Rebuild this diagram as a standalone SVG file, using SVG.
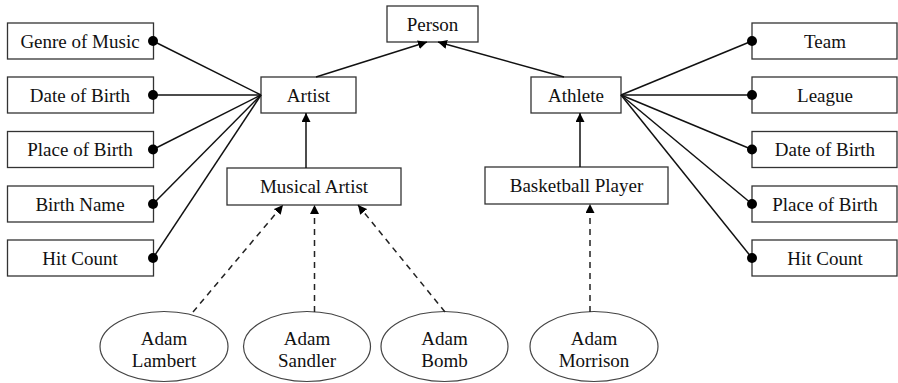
<svg xmlns="http://www.w3.org/2000/svg" width="898" height="383" viewBox="0 0 898 383">
  <style>
    .box { fill: #ffffff; stroke: #333333; stroke-width: 1.3; }
    .oval { fill: #ffffff; stroke: #444444; stroke-width: 1.2; }
    .label { font-family: "Liberation Serif", "Times New Roman", serif; font-size: 19px; fill: #111111; text-anchor: middle; }
    .link { stroke: #111111; stroke-width: 1.5; fill: none; }
    .inherit { stroke: #111111; stroke-width: 1.5; fill: none; marker-end: url(#tri); }
    .instance { stroke: #222222; stroke-width: 1.5; fill: none; stroke-dasharray: 6 5; marker-end: url(#tri); }
    .dot { fill: #000000; }
  </style>
  <defs>
    <marker id="tri" viewBox="0 0 10 10" refX="10" refY="5" markerWidth="9" markerHeight="9" markerUnits="userSpaceOnUse" orient="auto">
      <path d="M0,0 L10,5 L0,10 Z" fill="#000000"/>
    </marker>
  </defs>

  <rect width="898" height="383" fill="#ffffff"/>

  <!-- class nodes -->
  <g id="person"><rect class="box" x="387" y="6" width="91" height="36"/><text class="label" x="432.5" y="30.5">Person</text></g>
  <g id="artist"><rect class="box" x="261" y="77" width="95" height="36"/><text class="label" x="308.5" y="101.5">Artist</text></g>
  <g id="athlete"><rect class="box" x="531" y="77" width="90" height="36"/><text class="label" x="576" y="101.5">Athlete</text></g>
  <g id="musical-artist"><rect class="box" x="227" y="168" width="174" height="37"/><text class="label" x="314" y="192.5">Musical Artist</text></g>
  <g id="basketball-player"><rect class="box" x="485" y="167" width="183" height="37"/><text class="label" x="576.5" y="191.5">Basketball Player</text></g>

  <!-- Artist attributes -->
  <g id="genre-of-music"><rect class="box" x="7.5" y="23" width="146" height="36"/><text class="label" x="80" y="47.5">Genre of Music</text></g>
  <g id="artist-date-of-birth"><rect class="box" x="7.5" y="77" width="146" height="36"/><text class="label" x="80" y="101.5">Date of Birth</text></g>
  <g id="artist-place-of-birth"><rect class="box" x="7.5" y="131.5" width="146" height="36"/><text class="label" x="80" y="156">Place of Birth</text></g>
  <g id="birth-name"><rect class="box" x="7.5" y="186" width="146" height="36"/><text class="label" x="80" y="210.5">Birth Name</text></g>
  <g id="artist-hit-count"><rect class="box" x="7.5" y="240" width="146" height="36"/><text class="label" x="80" y="264.5">Hit Count</text></g>

  <!-- Athlete attributes -->
  <g id="team"><rect class="box" x="752" y="23" width="145" height="36"/><text class="label" x="825" y="47.5">Team</text></g>
  <g id="league"><rect class="box" x="752" y="77" width="145" height="36"/><text class="label" x="825" y="101.5">League</text></g>
  <g id="athlete-date-of-birth"><rect class="box" x="752" y="131.5" width="145" height="36"/><text class="label" x="825" y="156">Date of Birth</text></g>
  <g id="athlete-place-of-birth"><rect class="box" x="752" y="186" width="145" height="36"/><text class="label" x="825" y="210.5">Place of Birth</text></g>
  <g id="athlete-hit-count"><rect class="box" x="752" y="240" width="145" height="36"/><text class="label" x="825" y="264.5">Hit Count</text></g>

  <!-- instances -->
  <g id="adam-lambert"><ellipse class="oval" cx="164" cy="346.5" rx="64" ry="35"/><text class="label" x="164" y="345">Adam</text><text class="label" x="164" y="367">Lambert</text></g>
  <g id="adam-sandler"><ellipse class="oval" cx="307" cy="346.5" rx="63.5" ry="35"/><text class="label" x="307" y="345">Adam</text><text class="label" x="307" y="367">Sandler</text></g>
  <g id="adam-bomb"><ellipse class="oval" cx="444.5" cy="346.5" rx="63.5" ry="35"/><text class="label" x="444.5" y="345">Adam</text><text class="label" x="444.5" y="367">Bomb</text></g>
  <g id="adam-morrison"><ellipse class="oval" cx="594" cy="346.5" rx="64" ry="35"/><text class="label" x="594" y="345">Adam</text><text class="label" x="594" y="367">Morrison</text></g>

  <!-- connectors, drawn over the node outlines so the end dots sit on the box edges -->
  <g id="connectors">
    <!-- attributes of Artist -->
    <line class="link" x1="153" y1="41" x2="261" y2="95"/>
    <line class="link" x1="153" y1="95" x2="261" y2="95"/>
    <line class="link" x1="153" y1="149.5" x2="261" y2="95"/>
    <line class="link" x1="153" y1="204" x2="261" y2="95"/>
    <line class="link" x1="153" y1="258" x2="261" y2="95"/>
    <!-- attributes of Athlete -->
    <line class="link" x1="621" y1="95" x2="752" y2="41"/>
    <line class="link" x1="621" y1="95" x2="752" y2="95"/>
    <line class="link" x1="621" y1="95" x2="752" y2="149.5"/>
    <line class="link" x1="621" y1="95" x2="752" y2="204"/>
    <line class="link" x1="621" y1="95" x2="752" y2="258"/>
    <!-- subclass links -->
    <line class="inherit" x1="316" y1="77" x2="427" y2="42"/>
    <line class="inherit" x1="564" y1="77" x2="438" y2="42"/>
    <line class="inherit" x1="306" y1="168" x2="306" y2="113"/>
    <line class="inherit" x1="580" y1="167" x2="580" y2="113"/>
    <!-- instance links -->
    <line class="instance" x1="193" y1="312" x2="283" y2="205"/>
    <line class="instance" x1="314.5" y1="312" x2="314.5" y2="205"/>
    <line class="instance" x1="445" y1="312" x2="358" y2="205"/>
    <line class="instance" x1="590" y1="312" x2="590" y2="204"/>
    <!-- attribute end dots -->
    <circle class="dot" cx="153" cy="41" r="5"/>
    <circle class="dot" cx="153" cy="95" r="5"/>
    <circle class="dot" cx="153" cy="149.5" r="5"/>
    <circle class="dot" cx="153" cy="204" r="5"/>
    <circle class="dot" cx="153" cy="258" r="5"/>
    <circle class="dot" cx="752" cy="41" r="5"/>
    <circle class="dot" cx="752" cy="95" r="5"/>
    <circle class="dot" cx="752" cy="149.5" r="5"/>
    <circle class="dot" cx="752" cy="204" r="5"/>
    <circle class="dot" cx="752" cy="258" r="5"/>
  </g>
</svg>
